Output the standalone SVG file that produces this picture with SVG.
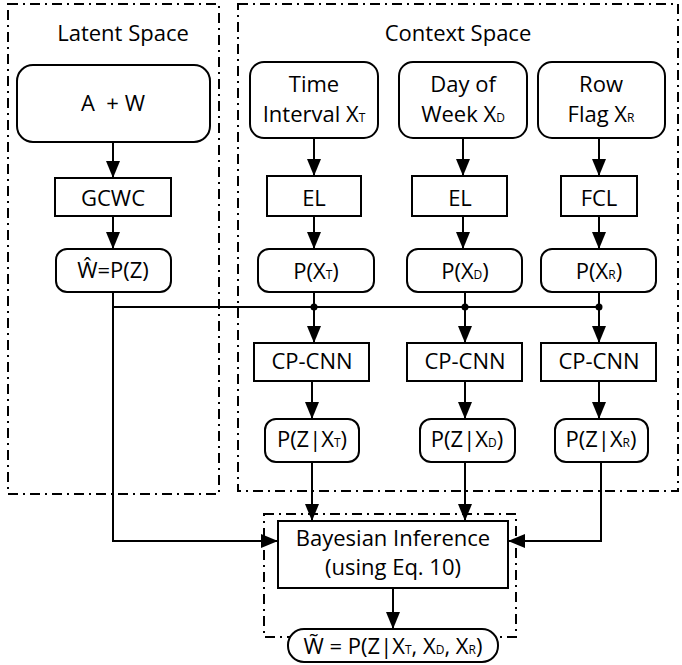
<svg xmlns="http://www.w3.org/2000/svg" width="682" height="665" viewBox="0 0 682 665">
<defs>
<marker id="ah" markerUnits="userSpaceOnUse" markerWidth="18" markerHeight="14" refX="17" refY="7" orient="auto">
<path d="M0,0 L17,7 L0,14 z" fill="#000"/>
</marker>
<style>
.bx{fill:#fff;stroke:#000;stroke-width:2}
.rg{fill:none;stroke:#000;stroke-width:2;stroke-dasharray:10 5 2 5}
.t{font-family:"Open Sans","Liberation Sans",sans-serif;font-size:22px;fill:#000;text-anchor:middle}
.s{font-size:12px}
.ln{fill:none;stroke:#000;stroke-width:2}
.ar{fill:none;stroke:#000;stroke-width:2;marker-end:url(#ah)}
</style>
</defs>
<rect width="682" height="665" fill="#fff"/>
<g id="regions">
<rect class="rg" x="8" y="4" width="211" height="490"/>
<rect class="rg" x="238" y="4" width="440" height="487"/>
<rect class="rg" x="264" y="514" width="252" height="123"/>
</g>
<g id="labels">
<text class="t" x="123" y="41">Latent Space</text>
<text class="t" x="458" y="41">Context Space</text>
</g>
<g id="connectors">
<path class="ar" d="M113,142 V178"/>
<path class="ar" d="M113,216 V249"/>
<path class="ar" d="M113,292 V541 H278"/>
<path class="ln" d="M113,307 H599"/>
<path class="ar" d="M314,138 V176"/>
<path class="ar" d="M463,138 V176"/>
<path class="ar" d="M599,138 V176"/>
<path class="ar" d="M314,216 V249"/>
<path class="ar" d="M463,216 V249"/>
<path class="ar" d="M599,216 V249"/>
<path class="ar" d="M314,292 V343"/>
<path class="ar" d="M465,292 V343"/>
<path class="ar" d="M599,292 V343"/>
<circle cx="314" cy="307" r="3.5"/>
<circle cx="465" cy="307" r="3.5"/>
<circle cx="599" cy="307" r="3.5"/>
<path class="ar" d="M312,381 V419"/>
<path class="ar" d="M465,381 V419"/>
<path class="ar" d="M599,381 V419"/>
<path class="ar" d="M312,462 V521"/>
<path class="ar" d="M465,462 V521"/>
<path class="ar" d="M601,462 V541 H508"/>
<path class="ar" d="M393,588 V629"/>
</g>
<g id="aw"><rect class="bx" x="17" y="65" width="193" height="77" rx="16"/><text class="t" x="113" y="111" xml:space="preserve">A  + W</text></g>
<g id="gcwc"><rect class="bx" x="55" y="178" width="116" height="38"/><text class="t" x="113" y="206">GCWC</text></g>
<g id="what"><rect class="bx" x="56" y="249" width="115" height="43" rx="11"/><text class="t" x="113" y="278">Ŵ=P(Z)</text></g>
<g id="time"><rect class="bx" x="250" y="62" width="128" height="76" rx="14"/><text class="t" x="314" y="92">Time</text><text class="t" x="314" y="122">Interval X<tspan class="s">T</tspan></text></g>
<g id="day"><rect class="bx" x="399" y="62" width="128" height="76" rx="14"/><text class="t" x="463" y="92">Day of</text><text class="t" x="463" y="122">Week X<tspan class="s">D</tspan></text></g>
<g id="row"><rect class="bx" x="538" y="62" width="127" height="76" rx="14"/><text class="t" x="601" y="92">Row</text><text class="t" x="601" y="122">Flag X<tspan class="s">R</tspan></text></g>
<g id="el1"><rect class="bx" x="267" y="176" width="94" height="40"/><text class="t" x="314" y="206">EL</text></g>
<g id="el2"><rect class="bx" x="412" y="176" width="95" height="40"/><text class="t" x="460" y="206">EL</text></g>
<g id="fcl"><rect class="bx" x="561" y="176" width="76" height="40"/><text class="t" x="599" y="206">FCL</text></g>
<g id="pxt"><rect class="bx" x="258" y="249" width="116" height="43" rx="11"/><text class="t" x="316" y="279">P(X<tspan class="s">T</tspan>)</text></g>
<g id="pxd"><rect class="bx" x="407" y="249" width="115" height="43" rx="11"/><text class="t" x="465" y="279">P(X<tspan class="s">D</tspan>)</text></g>
<g id="pxr"><rect class="bx" x="541" y="249" width="115" height="43" rx="11"/><text class="t" x="599" y="279">P(X<tspan class="s">R</tspan>)</text></g>
<g id="cp1"><rect class="bx" x="254" y="343" width="115" height="38"/><text class="t" x="312" y="369">CP-CNN</text></g>
<g id="cp2"><rect class="bx" x="407" y="343" width="115" height="38"/><text class="t" x="465" y="369">CP-CNN</text></g>
<g id="cp3"><rect class="bx" x="541" y="343" width="115" height="38"/><text class="t" x="599" y="369">CP-CNN</text></g>
<g id="pzt"><rect class="bx" x="265" y="419" width="94" height="43" rx="11"/><text class="t" x="312" y="447">P(Z|X<tspan class="s">T</tspan>)</text></g>
<g id="pzd"><rect class="bx" x="420" y="419" width="95" height="43" rx="11"/><text class="t" x="467" y="447">P(Z|X<tspan class="s">D</tspan>)</text></g>
<g id="pzr"><rect class="bx" x="555" y="419" width="93" height="43" rx="11"/><text class="t" x="601" y="447">P(Z|X<tspan class="s">R</tspan>)</text></g>
<g id="bayes"><rect class="bx" x="278" y="521" width="230" height="67"/><text class="t" x="393" y="546">Bayesian Inference</text><text class="t" x="393" y="575">(using Eq. 10)</text></g>
<g id="wtilde"><rect class="bx" x="288" y="629" width="210" height="33" rx="16"/><text class="t" x="393" y="654">W̃ = P(Z|X<tspan class="s">T</tspan>, X<tspan class="s">D</tspan>, X<tspan class="s">R</tspan>)</text></g>
</svg>
